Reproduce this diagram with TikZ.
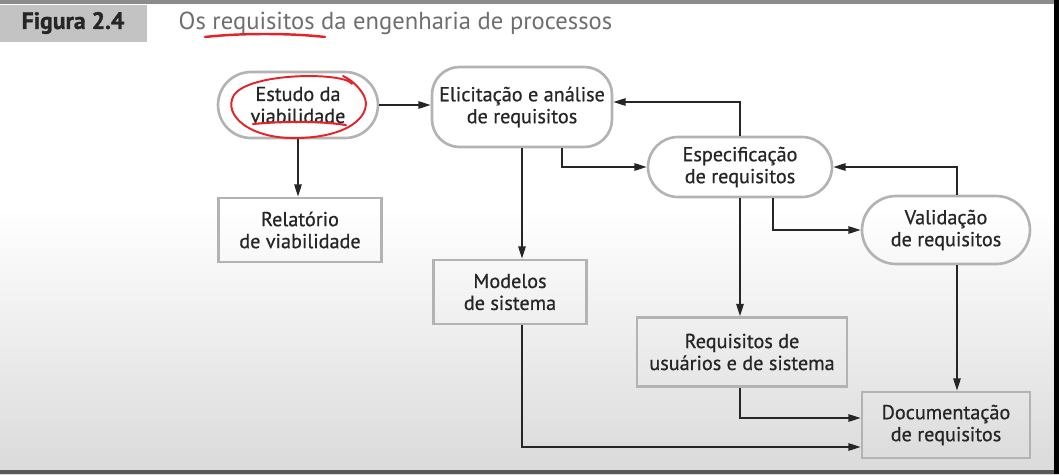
\documentclass[tikz,border=0pt]{standalone}
\usepackage{fontspec}
\setmainfont{PT Sans}
\newfontfamily\boxfont[FakeBold=0.7]{PT Sans}
\newfontfamily\tabfont[FakeBold=1.2]{PT Sans Bold}
\usetikzlibrary{arrows.meta, positioning, calc}

\definecolor{boxline}{HTML}{B3B3B3}
\definecolor{inkgray}{HTML}{262626}
\definecolor{titlegray}{HTML}{6E6E6E}
\definecolor{tabgray}{HTML}{C3C3C3}
\definecolor{bggray}{HTML}{DADADA}
\definecolor{penred}{HTML}{E3242B}

\tikzset{
  every picture/.append style={thick},
  boxtext/.style={align=center, text=inkgray, font=\boxfont\fontsize{11.5}{12.5}\selectfont, inner sep=0pt},
  procbox/.style={boxtext, draw=boxline, line width=1.5pt},
  docbox/.style={boxtext, draw=boxline, line width=1.5pt},
  flow/.style={draw=inkgray, line width=0.9pt, -{Triangle[length=7pt, width=4.2pt]}},
  pen/.style={draw=penred, line width=1.4pt, line cap=round, line join=round},
}

\begin{document}
\begin{tikzpicture}[x=0.02cm, y=-0.02cm]
        \useasboundingbox (0,0) rectangle (1059,474);

        % Background of the screenshot
        \fill[white] (0,0) rectangle (1059,210);
        \shade[top color=white, bottom color=bggray] (0,209) rectangle (1059,474);
        \fill[black!45] (0,0) rectangle (1059,4);
        \fill[black!65] (0,470) rectangle (1059,474);
        \fill[black] (1054,0) rectangle (1059,474);

        % Figure title
        \fill[tabgray] (0,5) rectangle (147,42);
        \node[font=\tabfont\fontsize{13.5}{14}\selectfont, text=inkgray] (figlabel) at (73,23) {Figura 2.4};
        \node[anchor=west, font=\fontsize{14}{15}\selectfont, text=titlegray, inner sep=0pt] (figtitle) at (178,23) {Os requisitos da engenharia de processos};

        % Process steps (rounded)
        \node[procbox, minimum width=3.2cm, minimum height=1.32cm, rounded corners=0.66cm] (estudo) at (298,105) {Estudo da\\viabilidade};
        \node[procbox, minimum width=3.6cm, minimum height=1.6cm, rounded corners=0.55cm] (elicit) at (522,107) {Elicitação e análise\\de requisitos};
        \node[procbox, minimum width=3.68cm, minimum height=1.2cm, rounded corners=0.6cm] (espec) at (740,167) {Especificação\\de requisitos};
        \node[procbox, minimum width=3.36cm, minimum height=1.36cm, rounded corners=0.68cm] (valid) at (946,230) {Validação\\de requisitos};

        % Documents (square)
        \node[docbox, minimum width=3.26cm, minimum height=1.28cm] (relat) at (300,230) {Relatório\\de viabilidade};
        \node[docbox, minimum width=3.06cm, minimum height=1.28cm] (modelos) at (510,292) {Modelos\\de sistema};
        \node[docbox, minimum width=4.2cm, minimum height=1.38cm] (requs) at (742,352) {Requisitos de\\usuários e de sistema};
        \node[docbox, minimum width=3.36cm, minimum height=1.32cm] (doc) at (946,425) {Documentação\\de requisitos};

        % Connectors
        \draw[flow] (estudo.east) -- (estudo.east -| elicit.west);
        \draw[flow] (estudo.south) -- (estudo.south |- relat.north);
        \draw[flow] (elicit.south) -- (elicit.south |- modelos.north);
        \draw[flow] ([xshift=0.8cm]elicit.south) |- (espec.west);
        \draw[flow] (espec.north) |- ([yshift=0.1cm]elicit.east);
        \draw[flow] (espec.south) -- (espec.south |- requs.north);
        \draw[flow] ([xshift=0.66cm]espec.south) |- (valid.west);
        \draw[flow] ([xshift=0.22cm]valid.north) |- (espec.east);
        \draw[flow] ([xshift=0.22cm]valid.south) -- ([xshift=0.22cm]doc.north);
        \draw[flow] (espec.south |- requs.south) |- ([yshift=0.14cm]doc.west);
        \draw[flow] ([xshift=0.24cm]modelos.south) |- ([yshift=-0.44cm]doc.west);

        % Hand-drawn marks
        \draw[pen] (205,37) .. controls (240,33) and (290,33) .. (325,37);
        \draw[pen, line width=1.2pt] (253,124) .. controls (285,121) and (320,121) .. (346,125);
        \draw[pen, line width=1.1pt] (352,84) .. controls (345,72) and (250,72) .. (234,95)
              .. controls (222,115) and (250,140) .. (300,138)
              .. controls (355,136) and (372,112) .. (364,96)
              .. controls (360,88) and (352,80) .. (343,76);
\end{tikzpicture}
\end{document}
